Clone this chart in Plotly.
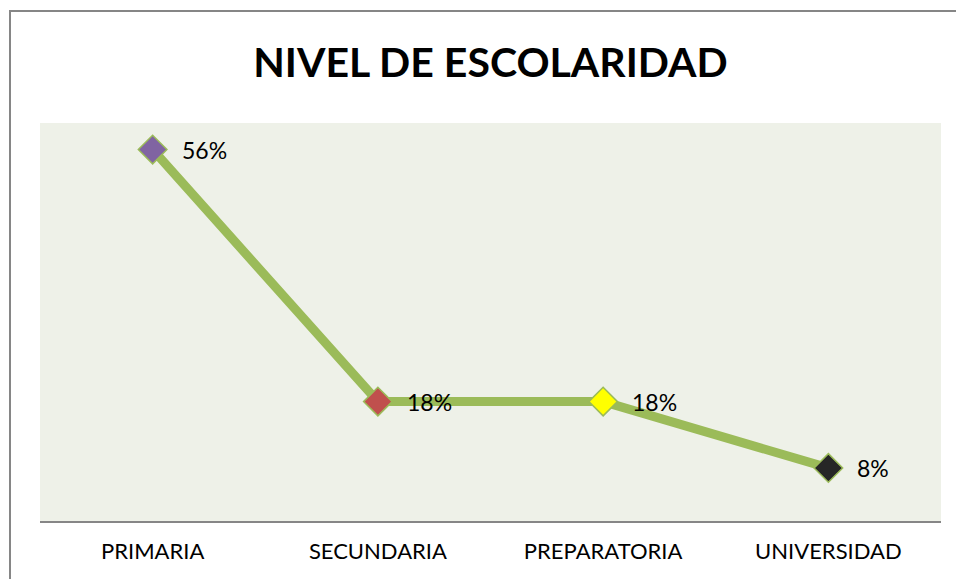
import plotly.graph_objects as go

categories = ["PRIMARIA", "SECUNDARIA", "PREPARATORIA", "UNIVERSIDAD"]
values = [0.56, 0.18, 0.18, 0.08]
labels = ["56%", "18%", "18%", "8%"]
marker_colors = ["#8064A2", "#C0504D", "#FFFF00", "#262626"]

fig = go.Figure()
fig.add_trace(go.Scatter(
    x=categories, y=values,
    mode="lines+markers",
    line=dict(color="#9BBB59", width=9),
    marker=dict(symbol="diamond", size=22, color=marker_colors,
                line=dict(color="#9BBB59", width=1.5)),
    cliponaxis=False,
    hoverinfo="skip",
))

for c, v, t in zip(categories, values, labels):
    fig.add_annotation(x=c, y=v, text=t, showarrow=False, xanchor="left",
                       yanchor="middle", xshift=27,
                       font=dict(family="Lato", size=23, color="#000000"))

fig.update_layout(
    width=956, height=579,
    margin=dict(l=40, r=15, t=123, b=58),
    paper_bgcolor="#FFFFFF",
    plot_bgcolor="#EEF1E8",
    showlegend=False,
    title=dict(text="<b>NIVEL DE ESCOLARIDAD</b>", x=0.5, xref="paper",
               y=1 - 63 / 579, yref="container", yanchor="middle", xanchor="center",
               font=dict(family="Lato", size=41, color="#000000")),
    xaxis=dict(range=[-0.5, 3.5], showgrid=False, zeroline=False,
               showline=True, linecolor="#868686", linewidth=2,
               ticks="", tickfont=dict(family="Lato", size=22, color="#000000"),
               ticklabelstandoff=10, fixedrange=True),
    yaxis=dict(range=[0, 0.6], showgrid=False, zeroline=False, showline=False,
               showticklabels=False, ticks="", fixedrange=True),
    shapes=[dict(type="rect", xref="paper", yref="paper",
                 x0=(10 - 40) / 901, x1=1.2, y0=-0.5, y1=1 + (123 - 11) / 398,
                 line=dict(color="#868686", width=2), fillcolor="rgba(0,0,0,0)",
                 layer="below")],
)

fig.write_html("out.html", config={"displayModeBar": False},
               post_script="document.body.style.margin='0';document.body.style.overflow='hidden';")
